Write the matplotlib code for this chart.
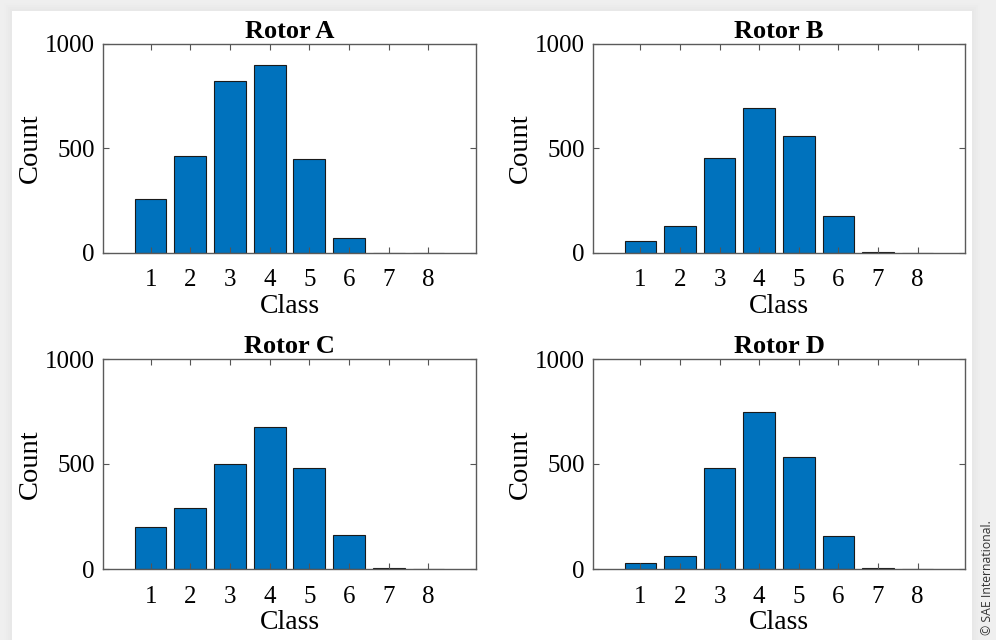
import matplotlib
matplotlib.use("Agg")
import matplotlib.pyplot as plt
from matplotlib.patches import Rectangle

classes = [1, 2, 3, 4, 5, 6, 7, 8]
rotor_a = [256, 464, 822, 895, 449, 70, 0, 0]
rotor_b = [57, 129, 451, 692, 559, 175, 3, 0]
rotor_c = [199, 290, 500, 675, 479, 162, 3, 0]
rotor_d = [27, 62, 482, 746, 535, 156, 3, 0]
titles = ["Rotor A", "Rotor B", "Rotor C", "Rotor D"]
series = [rotor_a, rotor_b, rotor_c, rotor_d]
yticks = [0, 500, 1000]

W, H = 996, 640
plt.rcParams['font.family'] = ['Liberation Serif', 'DejaVu Serif']
fig = plt.figure(figsize=(W / 100, H / 100), dpi=100, facecolor='#efefef')

# card with soft shadow
for i, a in enumerate([0.04, 0.05, 0.06, 0.08]):
    d = 8 - 2 * i
    fig.patches.append(Rectangle(((12 - d) / W, 0), (960 + 2 * d) / W, (629 + d) / H,
                                 transform=fig.transFigure, facecolor='#d8d8d8',
                                 alpha=a, edgecolor='none', zorder=-3))
fig.patches.append(Rectangle((12 / W, 0), 960 / W, 629 / H, transform=fig.transFigure,
                             facecolor='white', edgecolor='none', zorder=-2))

# axes boxes in pixels: left, right, top, bottom
boxes = [(103, 476, 43.5, 252.7), (593, 965, 43.5, 252.7),
         (103, 476, 359, 569), (593, 965, 359, 569)]

for (l, r, t, b), title, vals in zip(boxes, titles, series):
    ax = fig.add_axes([l / W, 1 - b / H, (r - l) / W, (b - t) / H])
    ax.bar(classes, vals, width=0.8, color='#0072BD', edgecolor='#1a1a1a', linewidth=0.8)
    ax.set_xlim(-0.2, 9.2)
    ax.set_ylim(0, 1000)
    ax.set_xticks(classes)
    ax.set_yticks(yticks)
    ax.tick_params(direction='in', top=True, right=True, length=4, width=0.8,
                   color='#555555', labelsize=18)
    ax.tick_params(axis='x', pad=12)
    ax.tick_params(axis='y', pad=6)
    for s in ax.spines.values():
        s.set_color('#5a5a5a')
        s.set_linewidth(1.0)
    ax.set_title(title, fontsize=19, fontweight='bold', pad=4)
    ax.set_xlabel("Class", fontsize=20, labelpad=2)
    ax.set_ylabel("Count", fontsize=20.5, labelpad=1)

fig.text(987 / W, 1 - 578 / H, "© SAE International.", rotation=90, ha='center', va='center',
         fontsize=8.8, color='#333333', family=['Open Sans', 'DejaVu Sans'])

fig.savefig("out.png", dpi=100, facecolor=fig.get_facecolor())
